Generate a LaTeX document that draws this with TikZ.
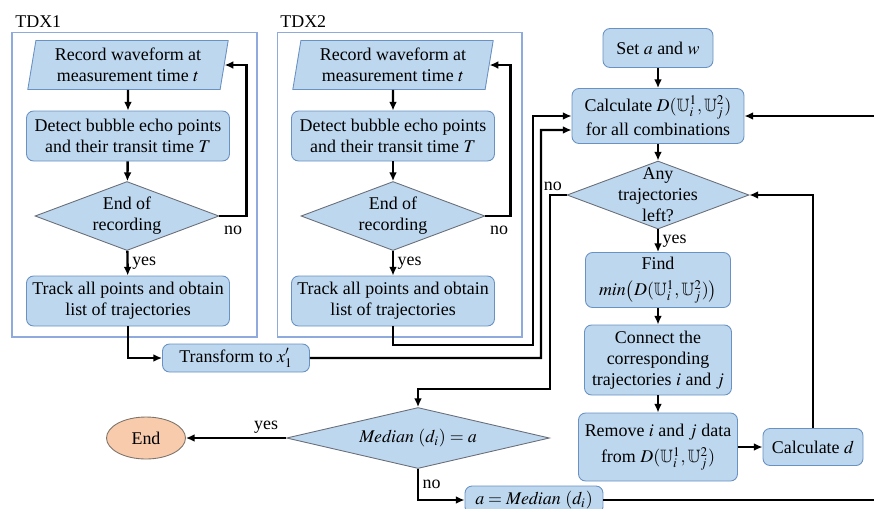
\documentclass[tikz,border=0pt]{standalone}
\usepackage{amssymb}
\usepackage{mathptmx}
\usepackage{fontspec}
\setmainfont{Liberation Serif}
\usetikzlibrary{shapes.geometric,arrows.meta}
\definecolor{boxfill}{RGB}{189,215,238}
\definecolor{boxline}{RGB}{105,145,195}
\definecolor{dialine}{RGB}{105,110,120}
\definecolor{endfill}{RGB}{248,203,173}
\definecolor{endline}{RGB}{125,115,105}
\definecolor{frmline}{RGB}{143,170,220}
\newcommand{\Dij}{D(\mathbb{U}_i^1,\mathbb{U}_j^2)}
\begin{document}
\begin{tikzpicture}[x=0.02cm,y=-0.02cm]
    \tikzset{
    txt/.style={font=\fontsize{10.2}{12}\selectfont},
    box/.style={txt,rectangle,rounded corners=4pt,fill=boxfill,draw=boxline,line width=0.5pt,align=center,inner sep=1pt},
    para/.style={txt,trapezium,trapezium left angle=80,trapezium right angle=100,trapezium stretches=true,fill=boxfill,draw=boxline,line width=0.5pt,align=center,inner sep=1pt},
    dia/.style={diamond,fill=boxfill,draw=dialine,line width=0.5pt,inner sep=0pt},
    term/.style={txt,ellipse,fill=endfill,draw=endline,line width=0.5pt},
    frm/.style={draw=frmline,line width=0.6pt,inner sep=0pt},
    arr/.style={-{Latex[length=5pt,width=4.5pt]},line width=1.35pt},
    lbl/.style={txt,inner sep=2pt},
    }
    \useasboundingbox (0,0) rectangle (874,508);

    \node[frm,minimum width=4.9cm,minimum height=6.1cm,label={[txt,anchor=south west,inner sep=2pt]north west:TDX1}] (tdx1) at (134.5,184.5) {};
    \node[frm,minimum width=4.9cm,minimum height=6.1cm,label={[txt,anchor=south west,inner sep=2pt]north west:TDX2}] (tdx2) at (399.5,184.5) {};

    \node[para,minimum width=4.04cm,minimum height=0.98cm] (rec1) at (128,65) {Record waveform at\\measurement time $t$};
    \node[box,minimum width=4.06cm,minimum height=1cm] (det1) at (128,136) {Detect bubble echo points\\and their transit time $T$};
    \node[dia,minimum width=3.68cm,minimum height=1.38cm,label={[txt,align=center]center:End of\\recording}] (end1) at (127,216) {};
    \node[box,minimum width=4.06cm,minimum height=1cm] (trk1) at (128,301) {Track all points and obtain\\list of trajectories};

    \node[para,minimum width=4.04cm,minimum height=0.98cm] (rec2) at (393,65) {Record waveform at\\measurement time $t$};
    \node[box,minimum width=4.06cm,minimum height=1cm] (det2) at (393,136) {Detect bubble echo points\\and their transit time $T$};
    \node[dia,minimum width=3.68cm,minimum height=1.38cm,label={[txt,align=center]center:End of\\recording}] (end2) at (393,216) {};
    \node[box,minimum width=4.06cm,minimum height=1cm] (trk2) at (393,301) {Track all points and obtain\\list of trajectories};

    \node[box,minimum width=2.94cm,minimum height=0.56cm] (trans) at (236,358) {Transform to $x'_1$};

    \node[box,minimum width=2.2cm,minimum height=0.78cm] (set) at (658,48) {Set $a$ and $w$};
    \node[box,minimum width=3.44cm,minimum height=1.1cm] (calc) at (658,116) {Calculate $\Dij$\\[2pt]for all combinations};
    \node[dia,minimum width=3.64cm,minimum height=1.36cm,label={[txt,align=center]center:Any\\trajectories\\left?}] (any) at (658,195) {};
    \node[box,minimum width=2.9cm,minimum height=1.1cm] (find) at (658,280) {Find\\[3pt]$\mathit{min}\bigl(\Dij\bigr)$};
    \node[box,minimum width=2.94cm,minimum height=1.4cm] (conn) at (658,360) {Connect the\\corresponding\\trajectories $i$ and $j$};
    \node[box,minimum width=3.18cm,minimum height=1.36cm] (rem) at (658,447) {Remove $i$ and $j$ data\\[3pt]from $\Dij$};
    \node[box,minimum width=2cm,minimum height=0.74cm] (calcd) at (813,447) {Calculate $d$};

    \node[dia,minimum width=5.26cm,minimum height=1.22cm,label={[txt]center:$\mathit{Median}\ (d_i) = a$}] (med) at (418,438) {};
    \node[term,minimum width=1.58cm,minimum height=0.84cm] (stop) at (146,438) {End};
    \node[box,minimum width=2.76cm,minimum height=0.56cm] (medbox) at (534,500) {$a = \mathit{Median}\ (d_i)$};

    \coordinate (cin) at ([yshift=-0.28cm]calc.west);

    \draw[arr] (rec1) -- (det1);
    \draw[arr] (det1) -- (end1);
    \draw[arr] (end1) -- node[lbl,right] {yes} (trk1);
    \draw[arr] (end1.east) -- node[lbl,below right,pos=0,yshift=-3pt] {no} ++(27,0) |- (rec1);
    \draw[arr] (rec2) -- (det2);
    \draw[arr] (det2) -- (end2);
    \draw[arr] (end2) -- node[lbl,right] {yes} (trk2);
    \draw[arr] (end2.east) -- node[lbl,below right,pos=0,yshift=-3pt] {no} ++(25,0) |- (rec2);
    \draw[arr] (trk1) |- (trans);
    \draw[arr] (trk2) |- (533,345) |- (calc);
    \draw[arr] (trans) -| (541,130) -- (cin);
    \draw[arr] (set) -- (calc);
    \draw[arr] (calc) -- (any);
    \draw[arr] (any) -- node[lbl,right] {yes} (find);
    \draw[arr] (find) -- (conn);
    \draw[arr] (conn) -- (rem);
    \draw[arr] (rem) -- (calcd);
    \draw[arr] (calcd) |- (any);
    \draw[arr] (any.west) -- node[lbl,above left,pos=0] {no} (550,195) |- (418,389) -- (med);
    \draw[arr] (med) -- node[lbl,above,pos=0.2] {yes} (stop);
    \draw[arr] (med) |- node[lbl,right,pos=0.25] {no} (medbox);
    \draw[arr] (medbox) -- (880,500) -- (880,116) -- (calc);
\end{tikzpicture}
\end{document}
